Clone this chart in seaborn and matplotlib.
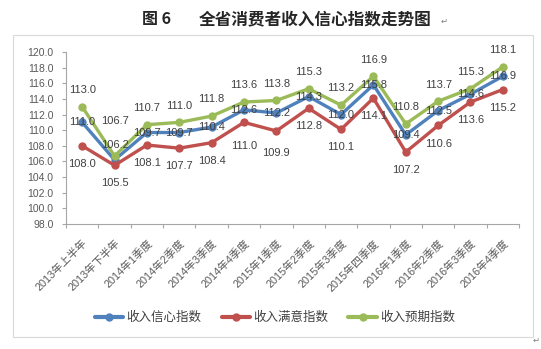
import numpy as np
import pandas as pd
import matplotlib
matplotlib.use("Agg")
import matplotlib.pyplot as plt
from matplotlib.patches import Rectangle
from matplotlib.ticker import FixedLocator, FormatStrFormatter
import seaborn as sns

# ---------------- data ----------------
categories = ["2013年上半年", "2013年下半年", "2014年1季度", "2014年2季度", "2014年3季度",
              "2014年4季度", "2015年1季度", "2015年2季度", "2015年3季度", "2015年四季度",
              "2016年1季度", "2016年2季度", "2016年3季度", "2016年4季度"]
confidence = [111.0, 106.2, 109.7, 109.7, 110.4, 112.6, 112.2, 114.3, 112.0, 115.8, 109.4, 112.5, 114.6, 116.9]
satisfaction = [108.0, 105.5, 108.1, 107.7, 108.4, 111.0, 109.9, 112.8, 110.1, 114.1, 107.2, 110.6, 113.6, 115.2]
expectation = [113.0, 106.7, 110.7, 111.0, 111.8, 113.6, 113.8, 115.3, 113.2, 116.9, 110.8, 113.7, 115.3, 118.1]
series_names = ["收入信心指数", "收入满意指数", "收入预期指数"]
y_ticks = [98.0, 100.0, 102.0, 104.0, 106.0, 108.0, 110.0, 112.0, 114.0, 116.0, 118.0, 120.0]
title_left = "图 6"
title_main = "全省消费者收入信心指数走势图"

colors = ["#4F81BD", "#C0504D", "#9BBB59"]

sns.set_style("white")
plt.rcParams["font.family"] = ["Liberation Sans", "Noto Sans CJK SC", "DejaVu Sans"]

W, H = 541, 349
fig = plt.figure(figsize=(W / 100, H / 100), dpi=100)
fig.patch.set_facecolor("white")

# outer chart frame
fig.add_artist(Rectangle((13 / W, 1 - 337 / H), (533 - 13) / W, (337 - 35) / H,
                         transform=fig.transFigure, fill=False, edgecolor="#D9D9D9", lw=0.8))

ax = fig.add_axes([66 / W, 1 - 224 / H, (519 - 66) / W, (224 - 52) / H])

series_values = [confidence, satisfaction, expectation]
df = pd.DataFrame({
    "pos": np.tile(np.arange(len(categories)), 3),
    "value": np.concatenate(series_values),
    "series": np.repeat(series_names, len(categories)),
})

sns.lineplot(data=df, x="pos", y="value", hue="series", hue_order=series_names,
             palette=colors, marker="o", markersize=6, markeredgewidth=0,
             linewidth=2.4, ax=ax, legend=True)

ax.set_xlim(-0.5, len(categories) - 0.5)
ax.set_ylim(98, 120)
ax.set_xlabel("")
ax.set_ylabel("")

# y axis
ax.yaxis.set_major_locator(FixedLocator(y_ticks))
ax.yaxis.set_major_formatter(FormatStrFormatter("%.1f"))
ax.tick_params(axis="y", which="major", length=3, width=0.8, color="#A6A6A6",
               labelsize=7.5, labelcolor="#595959", pad=6, left=True)

# x axis: labels at category centers, tick marks at boundaries
ax.set_xticks(np.arange(len(categories)))
ax.set_xticklabels(categories, rotation=45, ha="right", rotation_mode="anchor",
                   fontsize=7.8, color="#595959")
ax.tick_params(axis="x", which="major", length=0, pad=10)
ax.set_xticks(np.arange(-0.5, len(categories)), minor=True)
ax.tick_params(axis="x", which="minor", length=3, width=0.8, color="#A6A6A6", bottom=True)

for s in ["top", "right"]:
    ax.spines[s].set_visible(False)
for s in ["left", "bottom"]:
    ax.spines[s].set_color("#A6A6A6")
    ax.spines[s].set_linewidth(0.8)

# data labels (offsets in points)
base_offsets = [0, -13, 12]
overrides = {(0, 1): 11, (2, 1): 25, (1, 5): -17, (1, 6): -16}
for si, vals in enumerate(series_values):
    for i, v in enumerate(vals):
        dy = overrides.get((si, i), base_offsets[si])
        ax.annotate(f"{v:.1f}", (i, v), xytext=(0, dy), textcoords="offset points",
                    ha="center", va="center", fontsize=8, color="#404040", zorder=5)

# legend
handles, labels = ax.get_legend_handles_labels()
ax.legend_.remove()
leg = fig.legend(handles, labels, loc="center", bbox_to_anchor=(275 / W, 1 - 318 / H),
                 ncol=3, frameon=False, fontsize=9, handlelength=2.3, handletextpad=0.25,
                 columnspacing=1.6, borderaxespad=0)
for t in leg.get_texts():
    t.set_color("#404040")
for lh in leg.legend_handles:
    lh.set_linewidth(3)

# title
fig.text(157 / W, 1 - 19 / H, title_left, ha="center", va="center", fontsize=11.5,
         fontweight="bold", family=["Noto Sans CJK SC", "DejaVu Sans"])
fig.text(315 / W, 1 - 19 / H, title_main, ha="center", va="center", fontsize=12,
         fontweight="bold", family=["Noto Sans CJK SC", "DejaVu Sans"])
fig.text(444 / W, 1 - 21 / H, "↵", ha="center", va="center", fontsize=6,
         color="#808080", family=["DejaVu Sans"])
fig.text(536 / W, 1 - 340 / H, "↵", ha="center", va="center", fontsize=6,
         color="#808080", family=["DejaVu Sans"])

fig.savefig("out.png", dpi=100, facecolor="white")
